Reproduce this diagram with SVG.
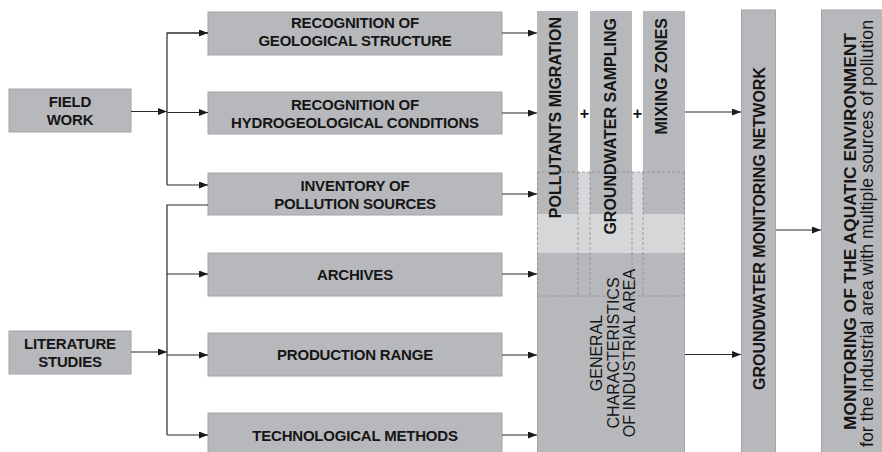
<svg xmlns="http://www.w3.org/2000/svg" width="882" height="452" viewBox="0 0 882 452">
<style>
.box{fill:#b7b8bb;stroke:#a3a4a7;stroke-width:1}
.lab{font-family:"Liberation Sans",Arial,sans-serif;font-weight:bold;font-size:15px;letter-spacing:-0.2px;fill:#151515;text-anchor:middle}
.vlab{font-family:"Liberation Sans",Arial,sans-serif;font-weight:bold;font-size:16px;fill:#151515}
.reg{font-family:"Liberation Sans",Arial,sans-serif;font-size:16px;fill:#151515;text-anchor:middle}
.ln{fill:none;stroke:#2a2a2a;stroke-width:1.2}
.dash{fill:none;stroke:#8c8d90;stroke-width:0.8;stroke-dasharray:3,2}
</style>
<defs>
<marker id="ah" markerUnits="userSpaceOnUse" markerWidth="10" markerHeight="8" refX="9" refY="3.5" orient="auto">
<path d="M0,0 L9,3.5 L0,7 z" fill="#1a1a1a"/>
</marker>
</defs>
<rect width="882" height="452" fill="#ffffff"/>

<g id="field-work">
<rect class="box" x="9" y="89" width="122" height="43"/>
<text class="lab" x="70" y="107">FIELD</text>
<text class="lab" x="70" y="125">WORK</text>
</g>
<g id="literature-studies">
<rect class="box" x="9" y="331" width="122" height="43"/>
<text class="lab" x="70" y="349">LITERATURE</text>
<text class="lab" x="70" y="367">STUDIES</text>
</g>

<g id="geological">
<rect class="box" x="208" y="12" width="294" height="43"/>
<text class="lab" x="355" y="28">RECOGNITION OF</text>
<text class="lab" x="355" y="46">GEOLOGICAL STRUCTURE</text>
</g>
<g id="hydrogeological">
<rect class="box" x="208" y="92" width="294" height="42"/>
<text class="lab" x="355" y="110">RECOGNITION OF</text>
<text class="lab" x="355" y="128">HYDROGEOLOGICAL CONDITIONS</text>
</g>
<g id="inventory">
<rect class="box" x="208" y="173" width="294" height="42"/>
<text class="lab" x="355" y="191">INVENTORY OF</text>
<text class="lab" x="355" y="209">POLLUTION SOURCES</text>
</g>
<g id="archives">
<rect class="box" x="208" y="253" width="294" height="43"/>
<text class="lab" x="355" y="280">ARCHIVES</text>
</g>
<g id="production">
<rect class="box" x="208" y="333" width="294" height="43"/>
<text class="lab" x="355" y="360">PRODUCTION RANGE</text>
</g>
<g id="technological">
<rect class="box" x="208" y="413" width="294" height="43"/>
<text class="lab" x="355" y="441">TECHNOLOGICAL METHODS</text>
</g>

<g id="general-characteristics">
<rect x="537" y="172" width="148" height="81" fill="#d6d7d8"/>
<rect x="537" y="253" width="148" height="199" fill="#b7b8bb"/>
<line x1="537.5" y1="296" x2="537.5" y2="452" stroke="#a3a4a7" stroke-width="1"/>
<line x1="684.5" y1="296" x2="684.5" y2="452" stroke="#a3a4a7" stroke-width="1"/>
<text class="reg" transform="translate(602,353) rotate(-90)">GENERAL</text>
<text class="reg" transform="translate(618.5,353) rotate(-90)">CHARACTERISTICS</text>
<text class="reg" transform="translate(635,353) rotate(-90)">OF INDUSTRIAL AREA</text>
</g>

<g id="pollutants-migration">
<rect x="537" y="11" width="41" height="203" fill="#b7b8bb"/>
<text class="vlab" text-anchor="end" transform="translate(561,17) rotate(-90)">POLLUTANTS MIGRATION</text>
</g>
<g id="groundwater-sampling">
<rect x="590" y="11" width="42" height="203" fill="#b7b8bb"/>
<text class="vlab" text-anchor="end" transform="translate(616,18) rotate(-90)">GROUNDWATER SAMPLING</text>
</g>
<g id="mixing-zones">
<rect x="643" y="11" width="42" height="203" fill="#b7b8bb"/>
<text class="vlab" text-anchor="end" transform="translate(667,18) rotate(-90)">MIXING ZONES</text>
</g>
<g id="plus-signs">
<text class="vlab" text-anchor="middle" x="584.5" y="118.5">+</text>
<text class="vlab" text-anchor="middle" x="637.5" y="118.5">+</text>
</g>
<g id="dashed-overlap">
<line class="dash" x1="537" y1="172" x2="685" y2="172"/>
<line class="dash" x1="537" y1="296" x2="685" y2="296"/>
<line class="dash" x1="537.5" y1="172" x2="537.5" y2="296"/>
<line class="dash" x1="578" y1="172" x2="578" y2="296"/>
<line class="dash" x1="590" y1="172" x2="590" y2="296"/>
<line class="dash" x1="632" y1="172" x2="632" y2="296"/>
<line class="dash" x1="643" y1="172" x2="643" y2="296"/>
<line class="dash" x1="684.5" y1="172" x2="684.5" y2="296"/>
</g>

<g id="groundwater-monitoring-network">
<rect class="box" x="741.5" y="10" width="34" height="446"/>
<text class="vlab" text-anchor="middle" transform="translate(765,228.5) rotate(-90)">GROUNDWATER MONITORING NETWORK</text>
</g>
<g id="monitoring-aquatic">
<rect class="box" x="821.5" y="10" width="64" height="446"/>
<text class="vlab" text-anchor="middle" style="font-size:17.3px" textLength="397" lengthAdjust="spacingAndGlyphs" transform="translate(856,231.5) rotate(-90)">MONITORING OF THE AQUATIC ENVIRONMENT</text>
<text class="reg" style="font-size:17.7px" textLength="427" lengthAdjust="spacingAndGlyphs" transform="translate(873,233.5) rotate(-90)">for the industrial area with multiple sources of pollution</text>
</g>

<g id="connectors">
<line class="ln" x1="131" y1="111.5" x2="167" y2="111.5" marker-end="url(#ah)"/>
<polyline class="ln" points="208,33 167,33 167,185"/>
<line class="ln" x1="167" y1="33" x2="208" y2="33" marker-end="url(#ah)"/>
<line class="ln" x1="167" y1="112.5" x2="208" y2="112.5" marker-end="url(#ah)"/>
<line class="ln" x1="167" y1="185" x2="208" y2="185" marker-end="url(#ah)"/>
<line class="ln" x1="131" y1="352" x2="167" y2="352" marker-end="url(#ah)"/>
<polyline class="ln" points="208,205 167,205 167,435"/>
<line class="ln" x1="167" y1="274" x2="208" y2="274" marker-end="url(#ah)"/>
<line class="ln" x1="167" y1="355" x2="208" y2="355" marker-end="url(#ah)"/>
<line class="ln" x1="167" y1="435" x2="208" y2="435" marker-end="url(#ah)"/>
<line class="ln" x1="502" y1="33" x2="537" y2="33" marker-end="url(#ah)"/>
<line class="ln" x1="502" y1="113" x2="537" y2="113" marker-end="url(#ah)"/>
<line class="ln" x1="502" y1="194" x2="537" y2="194" marker-end="url(#ah)"/>
<line class="ln" x1="502" y1="274" x2="537" y2="274" marker-end="url(#ah)"/>
<line class="ln" x1="502" y1="355" x2="537" y2="355" marker-end="url(#ah)"/>
<line class="ln" x1="502" y1="435" x2="537" y2="435" marker-end="url(#ah)"/>
<line class="ln" x1="685" y1="112" x2="741" y2="112" marker-end="url(#ah)"/>
<line class="ln" x1="685" y1="354.5" x2="741" y2="354.5" marker-end="url(#ah)"/>
<line class="ln" x1="776" y1="230" x2="821" y2="230" marker-end="url(#ah)"/>
</g>
</svg>
